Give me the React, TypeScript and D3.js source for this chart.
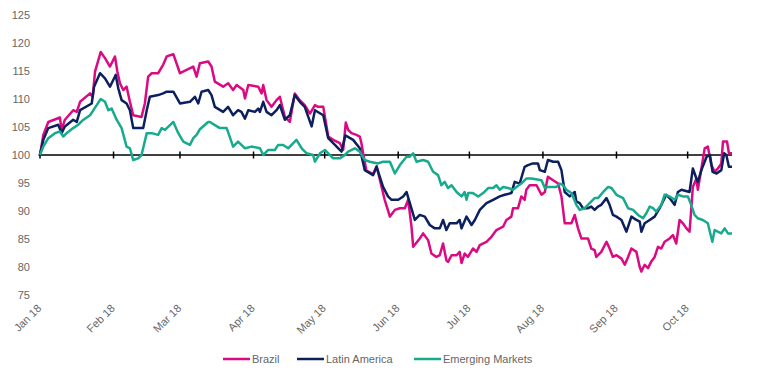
import React from "react";
import * as d3 from "d3";

// [day offset from 1 Jan 2018, index value]
const brazil: [number, number][] = [
  [0, 100], [1.4, 103.6], [3.5, 105.9], [8.4, 106.7], [9.1, 104.5], [10.5, 106.3], [14.0, 108], [15.5, 107.7],
  [16.9, 109.5], [21.1, 111], [22.2, 110.4], [23.2, 114.9], [25.6, 118.4], [27.4, 117.3], [29.5, 115.8], [31.6, 117.6],
  [32.6, 114.9], [33.7, 112.8], [35.1, 111.6], [36.5, 112.2], [37.9, 109.5], [39.3, 107.1], [42.8, 106.8], [44.2, 109.2],
  [45.6, 114], [47.1, 114.6], [49.8, 114.6], [51.9, 116.1], [53.4, 117.6], [56.2, 118], [59.0, 114.6], [61.8, 115.2],
  [64.6, 115.8], [66.0, 114], [67.4, 116.4], [70.9, 116.7], [72.3, 115.8], [73.7, 113.1], [77.2, 112.2], [79.3, 112.8],
  [81.4, 111.6], [82.9, 112.5], [85.7, 111.6], [86.4, 110.1], [87.8, 112.5], [92.0, 112.2], [93.4, 111], [94.1, 112.5],
  [95.5, 109.8], [97.6, 108.6], [99.7, 109.8], [101.1, 110.4], [103.2, 106.8], [105.3, 105.9], [107.4, 111], [109.5, 109.8],
  [111.6, 108.9], [113.8, 107.4], [115.9, 108.9], [117.2, 108.6], [119.4, 108.6], [121.5, 103.3], [123.6, 102.7], [126.4, 102.1],
  [127.8, 100.9], [128.9, 105.8], [129.9, 104.5], [131.3, 103.9], [133.4, 103.6], [134.8, 103.3], [135.5, 102.1], [136.2, 100.3],
  [137.6, 97.2], [140.4, 96.6], [141.9, 98], [144.0, 94.3], [145.3, 92], [147.5, 89], [149.6, 90.2], [151.7, 90.5],
  [153.8, 90.5], [155.2, 92], [156.6, 87.2], [157.3, 83.6], [160.1, 85.1], [161.5, 86], [163.6, 84.8], [165.0, 82.4],
  [167.1, 81.8], [168.5, 82.1], [169.9, 84.2], [171.3, 81.2], [172.0, 80.9], [173.5, 82.1], [175.6, 82.1], [176.9, 82.7],
  [177.7, 80.7], [179.0, 82.4], [180.4, 81.8], [182.5, 83.3], [184.0, 82.7], [185.4, 83.9], [188.2, 84.5], [190.3, 85.4],
  [192.4, 86.6], [195.2, 87.2], [196.6, 88.4], [198.7, 89], [199.4, 90.5], [201.5, 90.5], [202.9, 92.6], [204.3, 92],
  [205.0, 93.8], [206.4, 94.6], [209.3, 94.6], [211.4, 92.9], [212.8, 93.4], [214.1, 96.1], [216.3, 95.5], [218.4, 94.9],
  [219.8, 92.6], [221.2, 87.8], [224.0, 87.8], [225.4, 89.3], [226.8, 86.9], [228.2, 85.1], [231.0, 85.1], [232.4, 83.3],
  [233.8, 83], [234.5, 81.8], [236.6, 82.7], [238.8, 84.5], [240.1, 83.3], [241.5, 81.8], [243.0, 82.1], [245.1, 81.5],
  [246.5, 80.4], [247.9, 81.8], [249.3, 83.3], [251.4, 82.7], [252.8, 80], [253.5, 79.2], [254.9, 80.4], [256.3, 79.8],
  [257.7, 81], [259.1, 81.8], [260.5, 83.6], [261.9, 83.3], [263.3, 84.5], [265.4, 85.1], [266.8, 85.7], [268.2, 84.2],
  [269.6, 88.4], [271.0, 87.8], [272.5, 86.9], [273.8, 86.3], [274.5, 90.2], [275.2, 94.3], [276.7, 95.8], [277.3, 93.8],
  [278.8, 97.6], [280.2, 101.2], [281.5, 101.5], [283.0, 98.2], [284.4, 97], [285.8, 97.6], [287.2, 98.5], [287.9, 102.4],
  [289.6, 102.4], [290.4, 100.3], [291.7, 100.3],
];

const latinAmerica: [number, number][] = [
  [0, 100], [1.4, 102.7], [3.5, 104.8], [7.7, 105.4], [9.1, 103.9], [10.5, 105.1], [14.0, 106.3], [15.5, 105.9],
  [16.9, 108], [21.8, 109.2], [22.8, 112.2], [25.3, 114.6], [27.4, 113.7], [29.5, 112.2], [31.9, 114.3], [33.0, 111.9],
  [34.4, 109.8], [36.5, 109.2], [37.9, 108], [39.3, 104.8], [43.5, 104.8], [45.0, 108], [46.3, 110.4], [49.8, 110.7],
  [51.9, 111], [53.4, 111.3], [56.2, 111.3], [59.0, 109.2], [63.2, 109.5], [65.3, 110.4], [66.7, 109.2], [68.1, 111.3],
  [70.9, 111.6], [72.3, 110.7], [73.7, 108.6], [77.2, 107.7], [79.3, 108.6], [81.4, 107.1], [83.5, 108], [84.9, 107.7],
  [86.4, 106.5], [87.8, 108], [90.6, 107.7], [92.0, 108.3], [92.7, 107.7], [94.1, 109.5], [95.5, 107.7], [97.6, 107.1],
  [99.7, 108], [101.1, 108.9], [103.2, 106.3], [105.3, 107.1], [107.4, 110.7], [109.5, 109.5], [111.6, 108.6], [114.5, 105.1],
  [115.9, 108], [119.4, 107.1], [121.5, 103], [123.6, 102.1], [127.1, 100.6], [128.7, 103.5], [132.0, 102.7], [134.8, 101.2],
  [136.9, 97.3], [140.4, 96.4], [141.9, 97.9], [144.6, 94.3], [146.7, 92.6], [148.2, 92], [151.0, 92], [153.1, 92.6],
  [154.5, 93.4], [155.9, 91.4], [158.0, 88.4], [160.1, 89.3], [162.2, 89], [164.3, 87.5], [166.4, 86.9], [168.5, 86.9],
  [169.9, 88.4], [171.3, 86.6], [172.7, 87.8], [175.6, 87.8], [176.9, 88.4], [177.7, 86.9], [179.8, 89], [181.9, 87.5],
  [183.3, 88.4], [185.4, 90.2], [188.2, 91.4], [191.0, 92], [193.8, 92.6], [195.9, 92.9], [198.7, 93.2], [200.1, 95.2],
  [202.2, 94.9], [204.3, 97.9], [205.7, 98.2], [207.8, 98.5], [209.9, 98.5], [210.7, 97.3], [212.8, 97], [214.1, 99.1],
  [216.3, 98.8], [218.4, 98.8], [219.8, 97.3], [221.2, 93.4], [223.3, 92.6], [225.4, 93.4], [226.1, 91.7], [227.5, 91.4],
  [228.9, 90.5], [231.0, 90.5], [232.4, 90.8], [233.8, 90.2], [235.2, 90.8], [236.6, 91.1], [238.8, 92.3], [240.1, 91.1],
  [241.5, 89.3], [243.0, 89], [245.1, 88.4], [247.2, 86.3], [249.3, 89], [251.4, 88.4], [252.8, 88.1], [253.5, 86.3],
  [254.9, 87.8], [257.0, 88.4], [259.1, 89], [261.2, 90.5], [262.6, 91.7], [264.0, 92.9], [265.4, 92.3], [267.5, 91.1],
  [268.9, 93.4], [270.4, 93.8], [273.8, 93.4], [275.2, 97.6], [276.7, 95.8], [277.3, 95.2], [278.8, 97.3], [281.0, 99.7],
  [282.4, 100], [283.5, 97], [285.2, 96.7], [287.2, 97.3], [288.4, 100.3], [289.3, 100], [290.4, 97.9], [291.7, 97.9],
];

const emergingMarkets: [number, number][] = [
  [0, 100], [1.4, 101.5], [3.5, 103], [6.3, 103.9], [8.4, 104.2], [9.8, 103.3], [11.2, 103.9], [14.0, 104.8],
  [16.1, 105.4], [18.3, 106.3], [21.1, 107.1], [23.9, 108.9], [25.6, 110], [27.4, 109.5], [28.8, 108], [30.2, 108.3],
  [32.3, 106.3], [34.4, 104.8], [36.5, 101.5], [37.9, 101.2], [39.3, 99.1], [41.4, 99.4], [42.8, 100], [45.0, 103.9],
  [47.1, 103.9], [49.8, 103.6], [51.3, 104.8], [52.7, 104.5], [56.2, 105.9], [58.3, 103.9], [60.4, 102.4], [63.2, 101.8],
  [64.6, 103], [66.0, 103.6], [67.4, 104.6], [70.9, 105.9], [71.6, 105.9], [75.8, 104.8], [78.7, 104.8], [81.4, 101.5],
  [83.5, 102.4], [86.4, 101.2], [89.2, 101.5], [92.7, 101.2], [94.1, 100], [96.2, 100.9], [99.0, 100.9], [100.4, 101.8],
  [102.5, 101.8], [104.6, 101.2], [108.1, 102.7], [110.3, 101.2], [112.4, 100.3], [115.1, 100], [115.9, 98.8], [118.0, 100.3],
  [120.1, 100.9], [121.5, 100.3], [123.6, 99.4], [126.4, 99.4], [128.5, 100], [129.9, 100.6], [132.7, 101.2], [134.8, 100.6],
  [136.9, 99.1], [139.0, 98.8], [142.5, 98.5], [144.6, 98.8], [147.5, 98.8], [149.6, 96.7], [151.7, 98.2], [154.5, 99.7],
  [155.9, 99.7], [157.3, 100.3], [158.7, 98.8], [161.5, 99.1], [163.6, 98.8], [165.7, 97], [167.8, 96.4], [169.2, 94.6],
  [170.6, 95.2], [172.0, 94.1], [173.5, 94.6], [175.6, 93.4], [177.7, 92.6], [179.0, 93.4], [179.8, 92], [180.5, 93.2],
  [182.5, 93.2], [184.7, 92.6], [186.8, 93.2], [188.9, 94.1], [191.0, 94.1], [192.4, 94.6], [193.8, 93.8], [195.2, 94.3],
  [197.3, 94.1], [199.4, 93.8], [200.8, 94.3], [202.9, 94.9], [205.0, 95.8], [207.2, 95.8], [211.4, 95.5], [212.8, 94.1],
  [214.1, 94.3], [217.7, 94.3], [219.1, 94.9], [220.5, 94.6], [221.9, 93.8], [224.0, 93.2], [226.1, 91.1], [227.5, 90.2],
  [229.6, 90.5], [231.7, 91.4], [233.8, 92.3], [235.2, 92.3], [237.4, 93.4], [239.5, 94.3], [240.9, 94.1], [243.0, 92.9],
  [245.8, 92.3], [247.9, 90.5], [250.0, 90.2], [252.1, 89.3], [254.2, 88.7], [255.6, 89.6], [257.0, 90.8], [258.4, 90.5],
  [259.8, 89.9], [261.9, 91.1], [263.3, 92.9], [265.4, 92.6], [267.5, 92], [268.9, 92.9], [271.0, 92.6], [273.1, 92.6],
  [274.5, 91.1], [275.9, 89.3], [277.3, 88.7], [279.4, 88.4], [281.5, 87.8], [283.4, 84.5], [284.4, 86.6], [287.2, 86],
  [288.6, 86.9], [290.0, 86], [291.7, 86],
];

const yTicks = [75, 80, 85, 90, 95, 100, 105, 110, 115, 120, 125];
const seriesNames = ["Brazil", "Latin America", "Emerging Markets"];
const seriesColors = ["#dc0a82", "#0c1f5e", "#18aa8d"];
const seriesData = [brazil, latinAmerica, emergingMarkets];

const START = new Date(2018, 0, 1);
const LAST_DAY = 291.7;
const dayToDate = (d: number) => new Date(START.getTime() + d * 86400000);

export default function App() {
  const W = 757;
  const H = 379;
  const x = d3.scaleTime().domain([START, dayToDate(LAST_DAY)]).range([40, 732]);
  const y = d3.scaleLinear().domain([75, 125]).range([295, 15]);
  const line = d3
    .line<[number, number]>()
    .x((d) => x(dayToDate(d[0])))
    .y((d) => y(d[1]));
  const months = d3.timeMonth.range(START, dayToDate(LAST_DAY));
  const fmt = d3.timeFormat("%b %y");
  const font = "'Liberation Sans', Arial, Helvetica, sans-serif";
  const textColor = "#666";
  const y100 = y(100);

  const legendX = [223, 297, 414];

  return (
    <svg
      width={W}
      height={H}
      style={{ position: "absolute", left: 0, top: 0, background: "#fff" }}
      fontFamily={font}
    >
      {yTicks.map((t) => (
        <text key={t} x={30} y={y(t)} dy="0.35em" textAnchor="end" fontSize={11} fill={textColor}>
          {t}
        </text>
      ))}
      <line x1={x(START) - 1.5} x2={x(dayToDate(LAST_DAY))} y1={y100} y2={y100} stroke="#000" strokeWidth={1.6} />
      {months.map((m) => (
        <line key={+m} x1={x(m)} x2={x(m)} y1={y100 - 3.5} y2={y100 + 3.5} stroke="#000" strokeWidth={1.5} />
      ))}
      {months.map((m) => (
        <text
          key={"l" + +m}
          transform={`translate(${x(m) + 2},${309}) rotate(-45)`}
          textAnchor="end"
          fontSize={11}
          fill={textColor}
        >
          {fmt(m)}
        </text>
      ))}
      {seriesData.map((s, i) => (
        <path
          key={seriesNames[i]}
          d={line(s) || ""}
          fill="none"
          stroke={seriesColors[i]}
          strokeWidth={2.5}
          strokeLinejoin="round"
        />
      ))}
      {seriesNames.map((n, i) => (
        <g key={n} transform={`translate(${legendX[i]},359)`}>
          <line x1={0} x2={27} y1={0} y2={0} stroke={seriesColors[i]} strokeWidth={2.5} />
          <text x={29} y={0} dy="0.35em" fontSize={11} fill={textColor}>
            {n}
          </text>
        </g>
      ))}
    </svg>
  );
}
